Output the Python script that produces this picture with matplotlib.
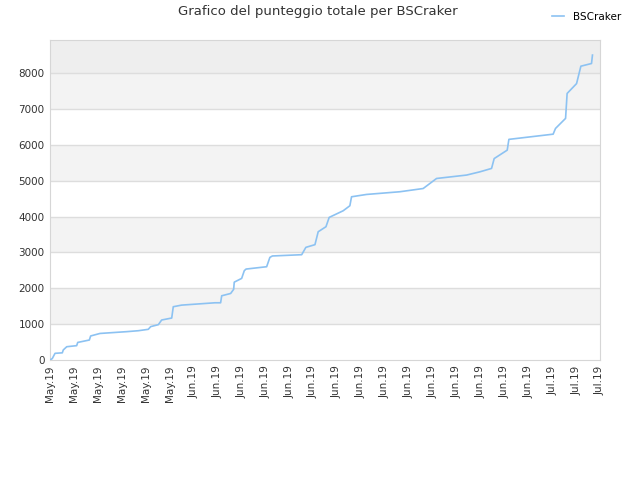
import numpy as np
import pandas as pd
import matplotlib
matplotlib.use("Agg")
import matplotlib.pyplot as plt

# days since 2019-05-20 and cumulative score
days = [0.0, 0.19, 0.42, 1.03, 1.11, 1.40, 2.23, 2.32, 3.29, 3.40, 4.18, 6.41, 7.38, 8.22,
        8.42, 9.06, 9.34, 10.18, 10.31, 11.01, 13.80, 14.27, 14.36, 15.11, 15.36, 15.41,
        16.03, 16.25, 16.4, 18.12, 18.39, 18.6, 21.05, 21.40, 22.16, 22.43, 23.08, 23.35,
        24.52, 25.08, 25.22, 26.48, 29.26, 31.21, 32.33, 34.84, 35.95, 36.93, 37.15, 38.24,
        38.38, 42.08, 42.28, 43.12, 43.25, 44.04, 44.40, 45.29, 45.37]
score = [0, 40, 186, 200, 280, 370, 400, 490, 557, 670, 740, 790, 816, 855,
         930, 985, 1115, 1170, 1485, 1530, 1595, 1595, 1790, 1855, 1970, 2170,
         2275, 2490, 2535, 2600, 2860, 2900, 2935, 3140, 3215, 3575, 3715, 3975,
         4160, 4300, 4550, 4615, 4690, 4780, 5060, 5155, 5245, 5340, 5615, 5850,
         6150, 6295, 6455, 6735, 7430, 7705, 8190, 8265, 8500]

start = pd.Timestamp("2019-05-20")
tick_days = np.arange(0, 47, 2)
tick_labels = [(start + pd.Timedelta(days=int(d))).strftime("%b.%y") for d in tick_days]

plt.rcParams["font.family"] = "DejaVu Sans"

fig = plt.figure(figsize=(6.4, 4.8), dpi=100)
ax = fig.add_axes([50/640, 120/480, 550/640, 320/480])

ymax = 8920
for lo in range(0, 9000, 1000):
    hi = min(lo + 1000, ymax)
    if lo >= 8000:
        c = "#eeeeee"
    elif (lo // 1000) % 2 == 1:
        c = "#f3f3f3"
    else:
        c = "#ffffff"
    ax.axhspan(lo, hi, color=c, zorder=0, lw=0)
for y in range(1000, 9000, 1000):
    ax.axhline(y, color="#dddddd", lw=1, zorder=1)

ax.plot(days, score, color="#8cc2f2", lw=1.2, label="BSCraker", zorder=3)

ax.set_xlim(0, 46)
ax.set_ylim(0, ymax)
ax.set_xticks(tick_days)
ax.set_xticklabels(tick_labels, rotation=90, fontsize=7.5, color="#333333")
ax.set_yticks(range(0, 9000, 1000))
ax.set_yticklabels([str(v) for v in range(0, 9000, 1000)], fontsize=7.5, color="#333333")
ax.tick_params(length=0, pad=4)
for s in ax.spines.values():
    s.set_color("#d6d6d6")

fig.text(0.497, 0.975, "Grafico del punteggio totale per BSCraker", ha="center", va="center",
         fontsize=9.5, color="#333333")
fig.legend(loc="upper right", bbox_to_anchor=(0.985, 0.995), frameon=False, fontsize=7.5,
           handlelength=1.2, handletextpad=0.8)

fig.savefig("out.png", dpi=100)
